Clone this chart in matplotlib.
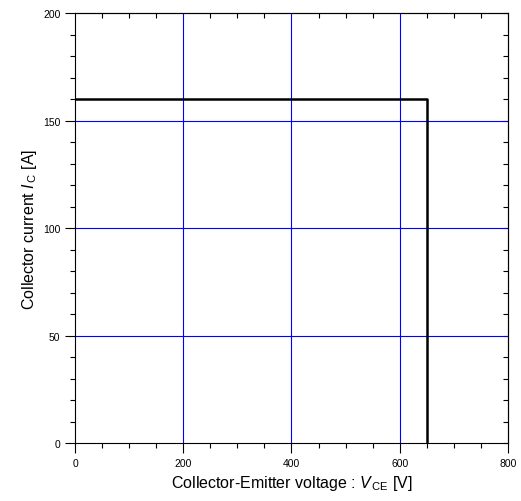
import matplotlib
matplotlib.use("Agg")
import matplotlib.pyplot as plt
from matplotlib.ticker import MultipleLocator

plt.rcParams['font.family'] = ['Liberation Sans', 'DejaVu Sans']
plt.rcParams['mathtext.fontset'] = 'custom'
plt.rcParams['mathtext.rm'] = 'Liberation Sans'
plt.rcParams['mathtext.it'] = 'Liberation Sans:italic'

vce = [0, 650, 650]
ic = [160, 160, 0]
x_ticks = [0, 200, 400, 600, 800]
y_ticks = [0, 50, 100, 150, 200]

fig = plt.figure(figsize=(5.21, 5.02), dpi=100)
ax = fig.add_axes([0.144, 0.1155, 0.831, 0.8565])

for xv in x_ticks[1:-1]:
    ax.axvline(xv, color='#0000ff', lw=0.8, zorder=1)
for yv in y_ticks[1:-1]:
    ax.axhline(yv, color='#0000ff', lw=0.8, zorder=1)

ax.plot(vce, ic, color='black', lw=1.8, zorder=3)

ax.set_xlim(0, 800)
ax.set_ylim(0, 200)
ax.set_xticks(x_ticks)
ax.set_yticks(y_ticks)
ax.xaxis.set_minor_locator(MultipleLocator(50))
ax.yaxis.set_minor_locator(MultipleLocator(10))

ax.tick_params(which='both', direction='out', top=False, right=False, labelsize=7.5, width=0.8)
ax.tick_params(which='major', length=7)
ax.tick_params(which='minor', length=3.5)

sec_x = ax.secondary_xaxis('top')
sec_x.set_xticks(x_ticks)
sec_x.xaxis.set_minor_locator(MultipleLocator(50))
sec_x.tick_params(which='both', direction='in', labeltop=False, width=0.8)
sec_x.tick_params(which='major', length=0)
sec_x.tick_params(which='minor', length=3.5)
sec_x.spines['top'].set_linewidth(0.8)

sec_y = ax.secondary_yaxis('right')
sec_y.set_yticks(y_ticks)
sec_y.yaxis.set_minor_locator(MultipleLocator(10))
sec_y.tick_params(which='both', direction='in', labelright=False, width=0.8)
sec_y.tick_params(which='major', length=3.5)
sec_y.tick_params(which='minor', length=3.5)

for s in ax.spines.values():
    s.set_linewidth(0.8)

ax.set_xlabel(r'Collector-Emitter voltage : $\mathit{V}_{\,\mathrm{CE}}$ [V]', fontsize=11.5, labelpad=4)
ax.set_ylabel(r'Collector current $\mathit{I}_{\,\mathrm{C}}$ [A]', fontsize=11.5, labelpad=3)

fig.savefig('out.png', dpi=100)
